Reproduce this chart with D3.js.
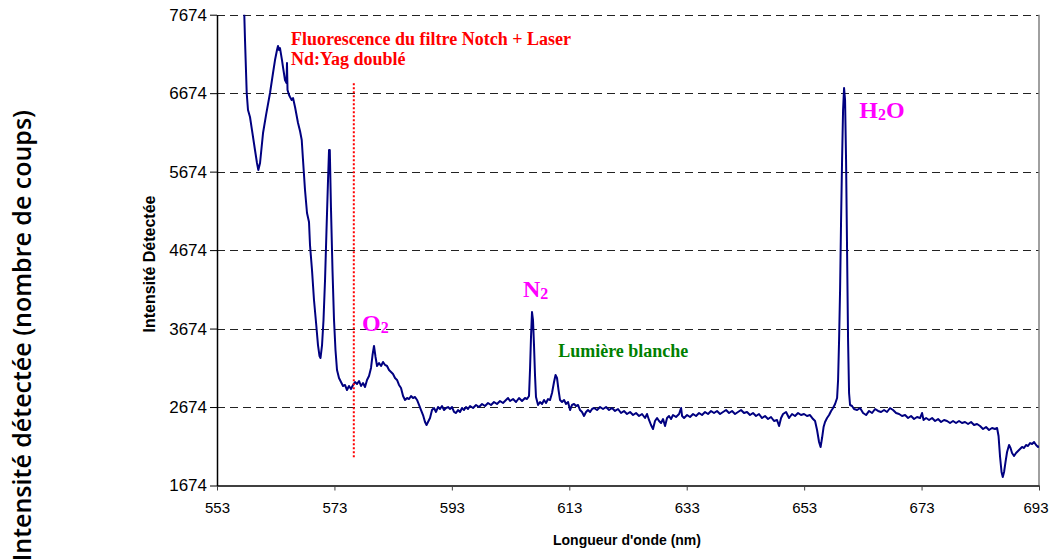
<!DOCTYPE html>
<html>
<head>
<meta charset="utf-8">
<script src="https://cdn.jsdelivr.net/npm/d3@7"></script>
<style>
  html, body { margin: 0; padding: 0; background: #fff; }
  svg { display: block; }
</style>
</head>
<body>
<svg id="chart" width="1050" height="560"></svg>
<script>
// Raman spectrum of ambient air (Nd:YAG doubled laser excitation)
const wavelength = [
  557.50,557.65,557.77,558.06,558.28,558.62,558.96,559.47,559.81,560.04,
  560.33,560.84,561.35,562.03,562.54,562.88,563.22,563.39,563.56,563.73,
  564.07,564.24,564.58,564.84,564.92,565.01,565.27,565.44,565.72,565.95,
  566.29,566.80,567.14,567.43,567.65,567.99,568.33,568.67,568.84,569.18,
  569.52,569.86,570.20,570.46,570.63,570.89,571.14,571.40,571.65,571.91,
  572.08,572.21,572.42,572.67,572.93,573.18,573.44,573.78,574.12,574.46,
  574.80,575.14,575.48,575.82,576.17,576.51,576.85,577.19,577.53,577.87,
  578.21,578.55,578.89,579.23,579.49,579.74,580.00,580.26,580.60,580.94,
  581.28,581.62,581.96,582.30,582.64,582.98,583.32,583.66,584.00,584.34,
  584.69,585.03,585.37,585.71,586.05,586.39,586.73,587.07,587.41,587.75,
  588.09,588.43,588.69,588.94,589.28,589.62,589.96,590.30,590.64,590.98,
  591.32,591.67,592.01,592.35,592.69,593.03,593.37,593.71,594.05,594.39,
  594.73,595.07,595.41,595.75,596.10,596.61,597.12,597.63,598.14,598.65,
  599.16,599.67,600.18,600.69,601.20,601.71,602.22,602.57,602.91,603.42,
  603.93,604.44,604.95,605.46,605.80,606.14,606.31,606.48,606.65,606.82,
  606.99,607.16,607.33,607.68,608.02,608.36,608.70,609.04,609.38,609.72,
  610.06,610.40,610.66,610.91,611.17,611.42,611.77,612.11,612.45,612.79,
  613.13,613.47,613.81,614.15,614.49,614.83,615.17,615.51,615.85,616.19,
  616.54,616.88,617.22,617.73,618.24,618.75,619.26,619.77,620.28,620.79,
  621.30,621.81,622.32,622.83,623.35,623.86,624.37,624.88,625.39,625.90,
  626.24,626.58,626.92,627.26,627.60,627.95,628.29,628.63,628.97,629.31,
  629.65,629.99,630.33,630.67,631.18,631.70,632.04,632.21,632.55,633.06,
  633.57,634.08,634.59,635.10,635.61,636.12,636.63,637.14,637.65,638.16,
  638.68,639.19,639.70,640.21,640.72,641.23,641.74,642.25,642.76,643.27,
  643.78,644.29,644.80,645.31,645.83,646.34,646.85,647.36,647.87,648.38,
  648.73,649.07,649.41,649.92,650.43,650.94,651.45,651.96,652.47,652.98,
  653.49,654.00,654.52,654.86,655.20,655.54,655.80,656.05,656.31,656.56,
  656.90,657.25,657.59,657.93,658.27,658.61,658.78,658.95,659.12,659.29,
  659.46,659.63,659.80,659.97,660.14,660.31,660.48,660.65,660.82,661.16,
  661.50,662.02,662.53,663.04,663.55,664.06,664.57,665.08,665.59,666.10,
  666.61,667.12,667.63,668.14,668.66,669.17,669.68,670.19,670.70,671.21,
  671.72,672.23,672.74,673.08,673.34,673.77,674.28,674.79,675.30,675.81,
  676.32,676.83,677.34,677.85,678.36,678.87,679.38,679.89,680.40,680.92,
  681.43,681.94,682.45,682.96,683.47,683.98,684.49,685.00,685.51,685.86,
  686.11,686.37,686.62,686.83,687.05,687.30,687.56,687.90,688.15,688.41,
  688.75,689.09,689.43,689.77,690.11,690.45,690.79,691.13,691.48,691.82,
  692.16,692.50,692.84,693.00
];

const counts = [
  7861,7670,7351,6676,6459,6370,6204,5950,5784,5695,
  5784,6166,6395,6676,6931,7096,7224,7275,7224,7249,
  7096,7007,6842,6803,7058,6714,6650,6625,6587,6612,
  6497,6294,6192,6077,5822,5440,5147,5032,4739,4420,
  4038,3758,3464,3324,3299,3464,3783,4293,4930,5567,
  5950,5950,5185,4420,3783,3401,3146,3044,2993,2942,
  2955,2891,2942,2904,2955,2993,2968,3006,2942,2980,
  2929,3019,3070,3172,3337,3452,3312,3197,3235,3197,
  3248,3210,3197,3146,3121,3095,3044,3019,2955,2917,
  2815,2764,2789,2776,2815,2789,2802,2764,2700,2636,
  2572,2483,2445,2483,2534,2636,2662,2611,2674,2649,
  2687,2636,2662,2674,2649,2674,2611,2598,2636,2611,
  2662,2636,2674,2649,2687,2662,2700,2674,2713,2687,
  2725,2700,2738,2713,2751,2725,2764,2789,2751,2776,
  2738,2789,2751,2789,2776,2815,3146,3567,3885,3783,
  3464,3082,2802,2700,2738,2713,2764,2725,2776,2764,
  2853,2993,3082,3044,2891,2764,2738,2764,2713,2738,
  2636,2700,2713,2687,2700,2636,2611,2560,2611,2636,
  2611,2649,2662,2636,2674,2649,2674,2636,2662,2624,
  2649,2598,2624,2585,2611,2572,2598,2560,2585,2534,
  2585,2509,2445,2394,2496,2534,2496,2470,2521,2432,
  2534,2560,2521,2572,2547,2585,2662,2560,2534,2572,
  2547,2585,2560,2598,2572,2611,2585,2624,2598,2624,
  2585,2611,2636,2598,2624,2585,2611,2636,2598,2611,
  2572,2598,2560,2585,2534,2560,2521,2547,2496,2509,
  2432,2534,2585,2611,2534,2585,2560,2598,2572,2585,
  2560,2572,2521,2496,2381,2228,2164,2279,2419,2483,
  2534,2572,2624,2662,2713,2789,3018,3528,4165,5058,
  5822,6459,6740,6587,5822,4675,3528,2853,2700,2687,
  2649,2636,2662,2598,2572,2624,2598,2649,2624,2611,
  2636,2611,2662,2636,2598,2585,2560,2572,2534,2560,
  2521,2547,2534,2598,2509,2534,2509,2534,2496,2521,
  2483,2509,2496,2470,2496,2470,2496,2470,2483,2458,
  2483,2445,2458,2432,2394,2419,2381,2407,2394,2407,
  2305,2037,1846,1782,1846,1974,2101,2190,2152,2088,
  2050,2088,2114,2139,2165,2152,2190,2177,2215,2203,
  2228,2190,2165,2177
];

const xTicks = [553, 573, 593, 613, 633, 653, 673, 693];
const yTicks = [1674, 2674, 3674, 4674, 5674, 6674, 7674];

// Reference line marking the end of the notch filter region (nm, counts)
const filterEdge = [576.3, 2025, 6800];

// Peak labels: [text, subscript, tail, wavelength, counts]
const peakLabels = [
  ["O", "2", "", 577.7, 3640],
  ["N", "2", "", 605.1, 4075],
  ["H", "2", "O", 662.4, 6360]
];
const noteRed = ["Fluorescence du filtre Notch + Laser", "Nd:Yag doublé", 565.6, 7290];
const noteGreen = ["Lumière blanche", 611.1, 3310];

const svg = d3.select("#chart");
const W = 1050, H = 560;
svg.append("rect").attr("width", W).attr("height", H).attr("fill", "#fff");

const plotL = 217, plotR = 1039, plotT = 14.7, plotB = 485.5;
const x = d3.scaleLinear().domain([553, 693]).range([plotL, plotR]);
const y = d3.scaleLinear().domain([1674, 7674]).range([plotB, plotT]);

svg.append("defs").append("clipPath").attr("id", "plotClip")
  .append("rect").attr("x", plotL).attr("y", plotT).attr("width", plotR - plotL).attr("height", plotB - plotT);

// Horizontal dashed gridlines
svg.append("g").selectAll("line").data(yTicks.slice(1)).join("line")
  .attr("x1", plotL).attr("x2", plotR)
  .attr("y1", d => Math.round(y(d)) + 0.5).attr("y2", d => Math.round(y(d)) + 0.5)
  .attr("stroke", "#222").attr("stroke-width", 1).attr("stroke-dasharray", "8,5");

// Right border
svg.append("line").attr("x1", plotR).attr("x2", plotR).attr("y1", plotT).attr("y2", plotB)
  .attr("stroke", "#808080").attr("stroke-width", 1.5);

// Spectrum
const pts = wavelength.map((w, i) => [w, counts[i]]);
svg.append("path").datum(pts)
  .attr("clip-path", "url(#plotClip)")
  .attr("fill", "none").attr("stroke", "#000080").attr("stroke-width", 2)
  .attr("stroke-linejoin", "round")
  .attr("d", d3.line().x(d => x(d[0])).y(d => y(d[1])));

// Filter edge marker
svg.append("line")
  .attr("x1", x(filterEdge[0])).attr("x2", x(filterEdge[0]))
  .attr("y1", y(filterEdge[2])).attr("y2", y(filterEdge[1]))
  .attr("stroke", "#ff0000").attr("stroke-width", 2).attr("stroke-dasharray", "2,2");

// Axes
const sans = "'Liberation Sans', Arial, sans-serif";
const xAxis = svg.append("g").attr("transform", `translate(0,${plotB})`)
  .call(d3.axisBottom(x).tickValues(xTicks).tickFormat(d3.format("d")).tickSize(5).tickPadding(12).tickSizeOuter(0));
xAxis.select(".domain").attr("stroke", "#404040").attr("stroke-width", 2);
xAxis.selectAll(".tick line").attr("stroke", "#404040");
xAxis.selectAll("text").attr("font-family", sans).attr("font-size", 15).attr("fill", "#000")
  .attr("dx", d => d === xTicks[xTicks.length - 1] ? -3.5 : 0);

const yAxis = svg.append("g").attr("transform", `translate(${plotL},0)`)
  .call(d3.axisLeft(y).tickValues(yTicks).tickFormat(d3.format("d")).tickSize(7).tickPadding(3).tickSizeOuter(0));
yAxis.select(".domain").attr("stroke", "#000").attr("stroke-width", 1.5);
yAxis.selectAll(".tick line").attr("stroke", "#000");
yAxis.selectAll("text").attr("font-family", sans).attr("font-size", 17).attr("fill", "#000");

// Axis titles
svg.append("text").attr("x", 627).attr("y", 545).attr("text-anchor", "middle")
  .attr("font-family", sans).attr("font-weight", "bold").attr("font-size", 14)
  .text("Longueur d'onde (nm)");
svg.append("text").attr("transform", "translate(155,264) rotate(-90)").attr("text-anchor", "middle")
  .attr("font-family", sans).attr("font-weight", "bold").attr("font-size", 16)
  .text("Intensité Détectée");
svg.append("text").attr("transform", "translate(31,110) rotate(-90)").attr("text-anchor", "end")
  .attr("font-family", "'Open Sans', sans-serif").attr("font-weight", 600).attr("font-size", 25)
  .text("Intensité détectée (nombre de coups)");

// Annotations
const serif = "'Liberation Serif', 'Times New Roman', serif";
const red = svg.append("text").attr("font-family", serif).attr("font-weight", "bold")
  .attr("font-size", 18).attr("fill", "#ff0000");
red.append("tspan").attr("x", x(noteRed[2])).attr("y", y(noteRed[3])).text(noteRed[0]);
red.append("tspan").attr("x", x(noteRed[2])).attr("dy", 20).text(noteRed[1]);

svg.append("text").attr("x", x(noteGreen[1])).attr("y", y(noteGreen[2]))
  .attr("font-family", serif).attr("font-weight", "bold").attr("font-size", 18).attr("fill", "#008000")
  .text(noteGreen[0]);

peakLabels.forEach(p => {
  const t = svg.append("text").attr("x", x(p[3])).attr("y", y(p[4]))
    .attr("font-family", serif).attr("font-weight", "bold").attr("font-size", 24).attr("fill", "#ff00ff");
  t.append("tspan").text(p[0]);
  t.append("tspan").attr("font-size", 16).attr("dy", 2).text(p[1]);
  if (p[2]) t.append("tspan").attr("dy", -2).text(p[2]);
});
</script>
</body>
</html>
